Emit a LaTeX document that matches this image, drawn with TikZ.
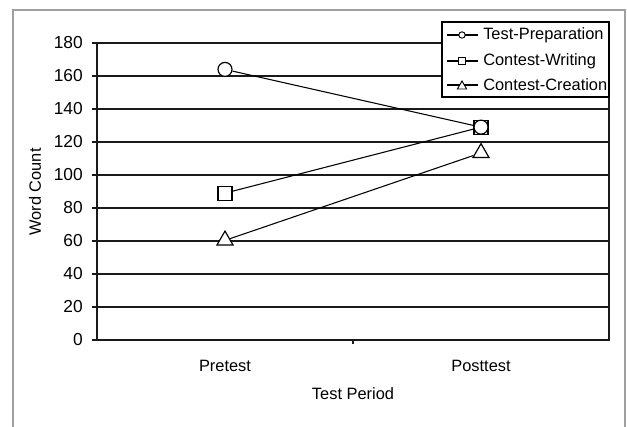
\documentclass[tikz,border=0pt]{standalone}
\usepackage{fontspec}
\setmainfont{Liberation Sans}
\usetikzlibrary{shapes}
\usetikzlibrary{shapes.geometric}
\definecolor{framegray}{HTML}{A0A0A0}
\definecolor{gridblack}{HTML}{1A1A1A}

\begin{document}
\begin{tikzpicture}[x=0.75pt,y=-0.75pt,font=\fontsize{12.3}{14.8}\selectfont]
	\tikzstyle{grid}=[draw=gridblack,line width=1.2pt]
	\tikzstyle{series}=[draw=black,line width=0.8pt]
	\tikzstyle{mcirc}=[circle,draw,fill=white,line width=0.9pt,inner sep=0pt,minimum size=10.5pt]
	\tikzstyle{msquare}=[rectangle,draw,fill=white,line width=0.9pt,inner sep=0pt,minimum size=10.5pt]
	\tikzstyle{mtri}=[regular polygon,regular polygon sides=3,draw,fill=white,line width=0.9pt,inner sep=0pt,minimum size=13.9pt,yshift=-2pt]
	\tikzstyle{lcirc}=[mcirc,minimum size=4.8pt,line width=0.7pt]
	\tikzstyle{lsquare}=[msquare,minimum size=5.8pt,line width=0.7pt]
	\tikzstyle{ltri}=[mtri,minimum size=8pt,line width=0.7pt,yshift=1pt]
	\useasboundingbox (0,0) rectangle (627,427);
	% outer frame
	\draw[framegray,line width=1.1pt] (13,427) -- (13,10) -- (625,10) -- (625,427);
	% grid and axes
	\foreach \v in {20,40,...,180}
		\draw[grid] (97,{340-1.65*\v}) -- (609,{340-1.65*\v});
	\foreach \v in {0,20,...,180}{
		\draw[grid] (92,{340-1.65*\v}) -- (97,{340-1.65*\v});
		\node[anchor=east,inner sep=0pt,font=\fontsize{13}{15}\selectfont] (t\v) at (83,{340-1.65*\v}) {\v};
	}
	\draw[grid] (609,43) -- (609,340) -- (97,340) -- (97,43);
	\draw[grid] (353,340) -- (353,344);
	% axis labels
	\node (pre) at (225,366) {Pretest};
	\node (post) at (481,366) {Posttest};
	\node (xlab) at (353,394) {Test Period};
	\node[rotate=90] (ylab) at (35,192) {Word Count};
	% data points
	\node[mcirc] (prepA) at (225,{340-1.65*164}) {};
	\node[msquare] (writeA) at (225,{340-1.65*89}) {};
	\node[mtri] (creaA) at (225,{340-1.65*62}) {};
	\node[msquare] (writeB) at (481,{340-1.65*129}) {};
	\node[mcirc] (prepB) at (481,{340-1.65*129}) {};
	\node[mtri] (creaB) at (481,{340-1.65*115}) {};
	\draw[series] (prepA) -- (prepB);
	\draw[series] (writeA) -- (writeB);
	\draw[series] (creaA) -- (creaB);
	% legend
	\draw[draw=black,fill=white,line width=0.8pt] (442,22) rectangle (609,97);
	\coordinate (l1a) at (447,35); \coordinate (l1b) at (478,35);
	\coordinate (l2a) at (447,61); \coordinate (l2b) at (478,61);
	\coordinate (l3a) at (447,85); \coordinate (l3b) at (478,85);
	\draw[series] (l1a) -- (l1b);
	\draw[series] (l2a) -- (l2b);
	\draw[series] (l3a) -- (l3b);
	\node[lcirc] (k1) at (462,35) {};
	\node[lsquare] (k2) at (462,61) {};
	\node[ltri] (k3) at (462,85) {};
	\node[anchor=west,inner sep=0pt] (e1) at (483,35) {Test-Preparation};
	\node[anchor=west,inner sep=0pt] (e2) at (483,61) {Contest-Writing};
	\node[anchor=west,inner sep=0pt] (e3) at (483,85) {Contest-Creation};
\end{tikzpicture}
\end{document}
